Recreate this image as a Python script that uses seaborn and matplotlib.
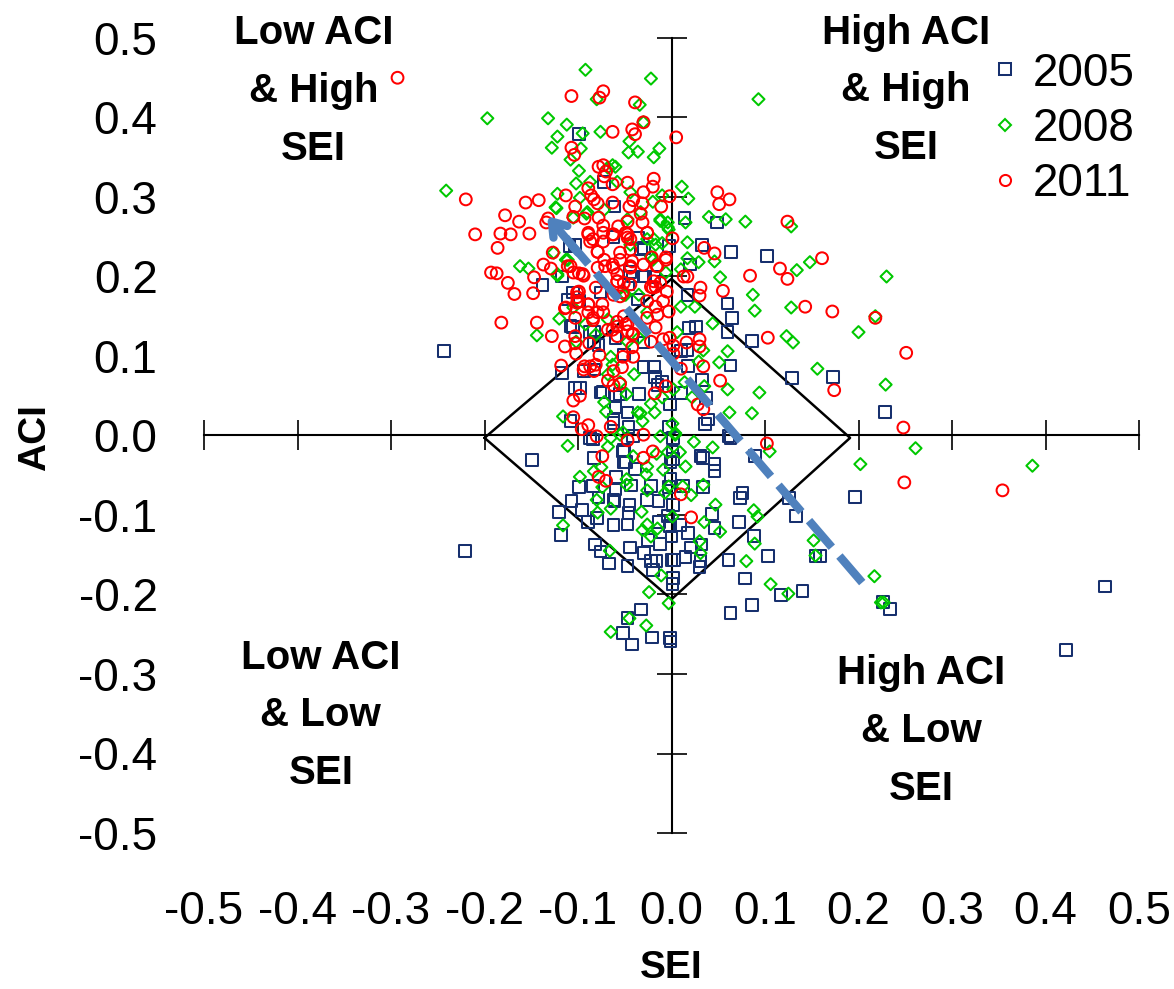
import pandas as pd
import seaborn as sns
import matplotlib.pyplot as plt

x_2005 = [-0.149,-0.120,-0.107,-0.096,-0.089,-0.080,-0.118,-0.099,-0.084,-0.078,-0.060,-0.059,-0.062,-0.061,-0.062,-0.047,-0.046,-0.045,-0.082,-0.076,-0.067,-0.047,-0.044,-0.029,-0.022,-0.016,-0.020,0.000,0.003,0.015,0.030,0.031,0.021,0.032,-0.012,-0.025,0.000,0.018,0.009,-0.002,-0.013,-0.004,-0.014,0.002,0.043,0.046,0.072,0.073,0.076,0.088,0.061,0.103,0.079,0.063,0.086,0.117,0.002,0.001,-0.033,-0.047,-0.052,-0.042,-0.021,-0.002,-0.001,-0.083,-0.051,-0.049,-0.039,-0.022,-0.043,-0.003,-0.001,0.012,0.034,0.031,0.034,0.046,0.046,0.002,0.063,0.089,0.002,-0.084,-0.041,
          -0.138,-0.117,-0.111,-0.105,-0.117,-0.103,-0.098,-0.076,-0.035,-0.030,-0.019,-0.018,-0.010,-0.015,-0.002,0.010,0.018,0.033,0.037,0.063,0.060,0.065,0.060,0.026,0.019,0.017,0.010,-0.030,-0.051,-0.083,-0.094,-0.083,-0.078,-0.105,-0.076,-0.036,-0.030,-0.019,-0.044,0.017,0.020,-0.033,0.039,0.036,0.061,-0.108,-0.062,-0.046,-0.047,-0.060,-0.073,-0.003,
          -0.099,-0.072,-0.061,0.014,0.049,0.064,0.033,-0.003,-0.029,-0.036,-0.109,-0.062,0.102,0.086,0.129,0.173,0.228,0.196,0.464,0.422,0.234,0.226,-0.243,-0.221,0.126,0.133,0.159,0.154,0.140,
          -0.108,-0.087,-0.083,-0.060,-0.060,-0.055,-0.087,-0.062,-0.052,-0.051,-0.026,-0.001,0.001,-0.099,-0.028,-0.041,-0.046,-0.103]
y_2005 = [-0.031,-0.096,-0.082,-0.094,-0.109,-0.104,-0.125,-0.065,-0.064,-0.078,-0.068,-0.052,-0.081,-0.083,-0.113,-0.112,-0.097,-0.087,-0.137,-0.146,-0.161,-0.164,-0.141,-0.148,-0.158,-0.158,-0.169,-0.157,-0.157,-0.153,-0.165,-0.158,-0.141,-0.137,-0.136,-0.131,-0.127,-0.123,-0.113,-0.114,-0.109,-0.101,-0.082,-0.087,-0.099,-0.116,-0.109,-0.079,-0.072,-0.126,-0.157,-0.152,-0.180,-0.223,-0.213,-0.201,-0.179,-0.187,-0.219,-0.230,-0.248,-0.263,-0.254,-0.255,-0.259,-0.028,-0.018,-0.033,-0.042,-0.064,-0.063,-0.065,-0.055,-0.064,-0.065,-0.026,-0.028,-0.036,-0.045,-0.030,-0.003,-0.026,-0.003,-0.005,-0.001,
          0.189,0.200,0.171,0.136,0.079,0.060,0.060,0.054,0.052,0.086,0.086,0.074,0.068,0.064,0.039,0.053,0.087,0.070,0.047,0.088,0.130,0.148,0.166,0.137,0.135,0.108,0.106,0.117,0.102,0.083,0.081,0.130,0.114,0.180,0.180,0.171,0.200,0.199,0.206,0.177,0.215,0.234,0.020,0.014,-0.001,0.018,0.016,0.011,0.029,0.036,0.055,0.011,
          0.379,0.319,0.288,0.274,0.268,0.231,0.240,0.238,0.236,0.249,0.238,0.250,0.226,0.119,0.072,0.074,0.030,-0.077,-0.190,-0.270,-0.218,-0.209,0.106,-0.145,-0.079,-0.101,-0.152,-0.152,-0.196,
          0.138,0.130,0.118,0.123,0.049,0.052,-0.003,0.020,-0.020,-0.034,-0.081,-0.033,-0.020,0.169,0.200,0.200,0.190,0.240]

x_2008 = [-0.092,-0.022,-0.197,-0.132,-0.112,-0.122,-0.128,-0.095,-0.076,-0.080,-0.034,-0.030,-0.045,-0.046,-0.036,-0.013,-0.019,-0.097,-0.108,-0.099,-0.068,-0.063,-0.060,-0.102,-0.087,-0.058,0.011,0.018,-0.010,-0.020,-0.044,-0.122,-0.098,-0.123,-0.091,0.040,0.058,0.015,-0.012,-0.004,-0.003,0.017,-0.010,-0.019,-0.026,-0.044,-0.072,
          -0.162,-0.153,-0.122,-0.120,-0.144,0.017,0.029,0.010,0.046,0.052,0.010,0.025,0.044,0.006,0.034,0.060,0.051,0.029,0.060,0.035,0.014,0.022,0.002,0.062,0.001,0.004,-0.040,-0.048,-0.010,-0.022,-0.018,-0.036,-0.033,-0.031,-0.072,-0.070,-0.116,-0.052,-0.065,-0.063,-0.055,-0.068,-0.102,-0.092,-0.081,-0.035,-0.051,-0.035,-0.006,-0.105,-0.068,-0.047,-0.026,-0.020,-0.111,
          -0.111,0.004,-0.012,0.024,0.044,0.009,-0.004,-0.041,-0.068,-0.055,-0.065,-0.016,0.015,-0.009,-0.026,-0.027,-0.075,-0.083,-0.098,-0.074,-0.048,-0.048,-0.026,-0.007,-0.003,0.012,0.021,0.034,0.047,-0.080,-0.079,-0.065,-0.032,0.001,0.035,0.052,-0.116,-0.031,-0.026,-0.015,-0.022,0.030,0.031,-0.066,-0.011,-0.024,-0.003,-0.045,-0.027,-0.065,0.088,0.092,0.089,0.080,0.106,0.105,
          -0.241,0.093,0.128,0.134,0.148,0.128,0.123,0.130,0.156,0.200,0.218,0.230,0.229,0.261,0.202,0.386,0.094,0.086,0.087,0.089,0.079,0.152,0.154,0.125,0.217,0.224,0.227,
          -0.105,-0.124,-0.090,-0.126,-0.113,-0.122,-0.049,-0.022,-0.017,-0.047,-0.033,-0.004,-0.012]
y_2008 = [0.460,0.449,0.399,0.399,0.391,0.376,0.362,0.380,0.382,0.423,0.416,0.394,0.370,0.356,0.357,0.361,0.350,0.361,0.347,0.333,0.337,0.340,0.338,0.317,0.319,0.319,0.313,0.298,0.302,0.294,0.306,0.304,0.299,0.286,0.279,0.275,0.272,0.268,0.270,0.268,0.259,0.243,0.242,0.247,0.247,0.240,0.284,
          0.213,0.210,0.201,0.147,0.126,0.223,0.218,0.209,0.219,0.199,0.162,0.162,0.141,0.130,0.107,0.106,0.092,0.093,0.058,0.062,0.067,0.048,0.058,0.029,0.015,0.003,0.077,0.052,0.048,0.040,0.029,0.029,0.028,0.018,0.042,0.030,0.024,0.004,0.099,0.089,0.067,0.077,0.118,0.140,0.127,0.123,0.177,0.177,0.205,0.161,0.146,0.118,0.155,0.221,0.221,
          -0.013,0.001,-0.001,-0.008,-0.015,-0.021,-0.021,-0.026,-0.014,0.001,-0.003,-0.023,-0.039,-0.043,-0.039,-0.049,-0.040,-0.045,-0.052,-0.065,-0.055,-0.062,-0.069,-0.072,-0.064,-0.064,-0.075,-0.062,-0.087,-0.081,-0.097,-0.092,-0.096,-0.102,-0.109,-0.121,-0.113,-0.119,-0.112,-0.117,-0.127,-0.133,-0.148,-0.145,-0.176,-0.197,-0.211,-0.230,-0.239,-0.247,-0.094,-0.102,-0.136,-0.158,-0.187,-0.020,
          0.308,0.423,0.263,0.208,0.218,0.161,0.125,0.117,0.084,0.130,0.150,0.200,0.064,-0.016,-0.036,-0.038,0.054,0.028,0.177,0.157,0.269,-0.132,-0.151,-0.199,-0.177,-0.210,-0.210,
          0.274,0.287,0.281,0.230,0.221,0.203,0.177,0.225,0.240,0.272,0.281,0.262,0.272]

x_2011 = [-0.293,-0.107,-0.073,-0.077,-0.039,-0.030,-0.063,-0.042,-0.039,0.005,-0.107,-0.104,-0.078,-0.073,-0.070,-0.072,-0.019,-0.020,-0.047,-0.063,-0.089,-0.030,-0.086,-0.083,-0.079,-0.113,-0.142,-0.156,-0.178,-0.163,-0.183,-0.172,-0.152,-0.186,-0.132,-0.134,-0.103,-0.002,0.049,0.051,0.062,-0.011,-0.031,-0.041,-0.045,-0.063,-0.033,-0.047,-0.031,-0.026,-0.057,-0.078,-0.073,-0.105,-0.093,-0.089,-0.073,-0.062,-0.049,-0.047,-0.087,-0.073,-0.079,-0.127,0.001,0.035,0.046,
          -0.193,-0.187,-0.175,-0.168,-0.147,-0.148,-0.137,-0.129,-0.182,-0.144,-0.128,-0.114,-0.118,-0.111,-0.099,-0.094,-0.099,-0.101,-0.101,-0.114,-0.103,-0.089,-0.089,-0.079,-0.073,-0.084,-0.081,-0.072,-0.079,-0.063,-0.055,-0.042,-0.044,-0.030,-0.016,-0.006,-0.021,-0.058,-0.058,-0.051,-0.044,-0.019,-0.012,-0.020,-0.005,-0.062,-0.026,-0.009,-0.017,-0.003,-0.026,-0.015,-0.017,-0.051,-0.058,-0.049,-0.068,-0.058,-0.047,-0.041,-0.103,-0.102,-0.088,-0.077,-0.093,-0.081,-0.083,-0.042,-0.052,-0.041,-0.053,-0.062,-0.068,-0.062,-0.055,-0.098,-0.105,-0.006,-0.018,-0.105,-0.096,-0.089,-0.065,-0.022,-0.009,-0.002,0.002,0.002,0.016,0.030,0.030,0.034,0.010,0.052,0.028,0.034,0.013,0.017,0.031,0.030,0.055,
          -0.080,-0.047,-0.030,-0.020,-0.030,-0.074,-0.078,-0.070,0.010,0.021,0.102,
          0.124,0.116,0.124,0.143,0.161,0.172,0.174,0.218,0.251,0.248,0.249,0.354,0.103,0.084,-0.220,-0.210,
          -0.089,-0.084,-0.063,-0.047,-0.044,-0.079,-0.055,-0.044,-0.044,-0.071,-0.062,-0.058,-0.052,-0.022,-0.017,-0.055,-0.101,-0.099,-0.089,-0.074,-0.113,-0.105,-0.095,-0.108,-0.026,-0.015,-0.006,
          -0.103,-0.094,-0.087,-0.063,-0.058,-0.042,-0.047,-0.084]
y_2011 = [0.450,0.427,0.433,0.425,0.419,0.394,0.382,0.385,0.379,0.375,0.362,0.353,0.338,0.340,0.332,0.326,0.323,0.313,0.318,0.316,0.311,0.306,0.302,0.297,0.292,0.302,0.296,0.293,0.277,0.269,0.254,0.253,0.254,0.236,0.273,0.268,0.288,0.301,0.306,0.291,0.297,0.288,0.292,0.296,0.288,0.293,0.279,0.269,0.268,0.255,0.263,0.274,0.264,0.275,0.273,0.255,0.255,0.253,0.255,0.249,0.244,0.244,0.231,0.230,0.248,0.236,0.229,
          0.205,0.204,0.192,0.178,0.199,0.179,0.215,0.210,0.142,0.142,0.125,0.112,0.088,0.213,0.204,0.201,0.181,0.174,0.167,0.160,0.148,0.165,0.155,0.155,0.155,0.145,0.186,0.221,0.211,0.215,0.221,0.219,0.211,0.215,0.213,0.221,0.224,0.203,0.194,0.192,0.190,0.194,0.192,0.186,0.181,0.177,0.169,0.169,0.162,0.156,0.148,0.152,0.136,0.150,0.143,0.140,0.133,0.125,0.131,0.128,0.116,0.103,0.116,0.101,0.087,0.089,0.081,0.111,0.099,0.099,0.086,0.081,0.069,0.063,0.065,0.050,0.044,0.062,0.053,0.023,0.008,0.013,0.011,0.118,0.121,0.123,0.113,0.103,0.117,0.121,0.112,0.087,0.084,0.069,0.039,0.033,0.200,0.200,0.186,0.176,0.182,
          -0.001,-0.006,0.001,-0.020,-0.028,-0.026,-0.052,-0.057,-0.074,-0.103,-0.010,
          0.269,0.210,0.197,0.162,0.223,0.156,0.057,0.148,0.104,0.010,-0.059,-0.069,0.123,0.201,0.297,0.253,
          0.253,0.247,0.253,0.253,0.247,0.231,0.230,0.234,0.213,0.213,0.211,0.194,0.180,0.187,0.187,0.175,0.180,0.169,0.165,0.165,0.161,0.205,0.203,0.213,0.255,0.213,0.224,
          0.125,0.083,0.087,0.133,0.137,0.127,0.140,0.148]

tick_vals = [-0.5,-0.4,-0.3,-0.2,-0.1,0.0,0.1,0.2,0.3,0.4,0.5]
tick_labels = ['-0.5','-0.4','-0.3','-0.2','-0.1','0.0','0.1','0.2','0.3','0.4','0.5']

diamond_x = [-0.2,0.0,0.191,0.0,-0.2]
diamond_y = [-0.003,0.197,-0.003,-0.206,-0.003]
arrow_x = [0.204,-0.125]
arrow_y = [-0.185,0.265]

sns.set_style('white')
plt.rcParams['font.family'] = ['Liberation Sans', 'DejaVu Sans']

fig = plt.figure(figsize=(11.74,9.89), dpi=100)
ax = fig.add_axes([204/1174, 1-833/989, 935/1174, 795/989])

series = [('2005', x_2005, y_2005, 's', '#17306e', 72),
          ('2008', x_2008, y_2008, 'D', '#00c800', 38),
          ('2011', x_2011, y_2011, 'o', '#ff0000', 72)]

handles = []
for name, xs, ys, mark, col, size in series:
    df = pd.DataFrame({'SEI': xs, 'ACI': ys})
    sns.scatterplot(data=df, x='SEI', y='ACI', marker=mark, s=size, color=col, linewidth=1.45, ax=ax, zorder=3, clip_on=False)
    pts = ax.collections[-1]
    pts.set_facecolor('none')
    pts.set_edgecolor(col)
    handles.append(plt.Line2D([], [], ls='', marker=mark, mfc='none', mec=col, mew=1.45, ms=8 if mark != 'D' else 6.2, label=name))

ax.plot(diamond_x, diamond_y, color='black', lw=1.8, zorder=2)

# dashed trend line, the head goes on separately so it stays solid
ax.plot(arrow_x, arrow_y, color='#4f81bd', lw=6, dashes=(4.2,1.4), zorder=4, solid_capstyle='butt')
ax.annotate('', xy=(-0.133,0.276), xytext=(-0.10,0.23), zorder=4,
            arrowprops=dict(arrowstyle='->,head_length=0.95,head_width=0.65', color='#4f81bd', lw=6, shrinkA=0, shrinkB=0))

ax.set_xlim(-0.5,0.5)
ax.set_ylim(-0.5,0.5)
for s in ['top','right']:
    ax.spines[s].set_visible(False)
for s in ['left','bottom']:
    ax.spines[s].set_position('zero')
    ax.spines[s].set_linewidth(1.5)
    ax.spines[s].set_color('black')
ax.set_xticks(tick_vals)
ax.set_xticklabels(tick_labels)
ax.set_yticks(tick_vals)
ax.set_yticklabels(tick_labels)
ax.tick_params(axis='x', direction='inout', length=22, width=1.2, color='black', labelcolor='black', labelsize=33, pad=316, bottom=True)
ax.tick_params(axis='y', direction='inout', length=22, width=1.2, color='black', labelcolor='black', labelsize=33, pad=359, left=True)

ax.set_xlabel('SEI', fontsize=28, fontweight='bold', va='center', color='black')
ax.set_ylabel('ACI', fontsize=28, fontweight='bold', va='center', color='black')
ax.xaxis.set_label_coords(0.5, (833-968)/795)
ax.yaxis.set_label_coords((35-204)/935, 0.497)

quad_text = [(-0.383,0.433,'Low ACI\n& High\nSEI'), (0.251,0.434,'High ACI\n& High\nSEI'),
             (-0.375,-0.352,'Low ACI\n& Low\nSEI'), (0.267,-0.372,'High ACI\n& Low\nSEI')]
for qx, qy, txt in quad_text:
    ax.text(qx, qy, txt, fontsize=29, fontweight='bold', ha='center', va='center', linespacing=1.66, color='black', zorder=5)

leg = ax.legend(handles=handles, loc='upper left', bbox_to_anchor=(0.832,0.983), frameon=False, fontsize=33,
                labelspacing=0.25, handletextpad=0.1, handlelength=1.0, borderpad=0, borderaxespad=0, labelcolor='black')

fig.savefig('out.png', dpi=100)
